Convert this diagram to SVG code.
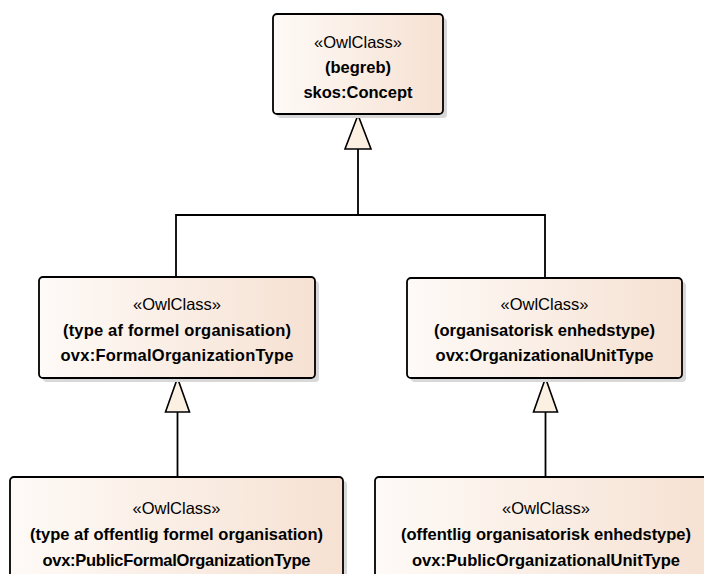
<svg xmlns="http://www.w3.org/2000/svg" width="704" height="574" viewBox="0 0 704 574">
<defs>
<linearGradient id="g" x1="0" y1="0" x2="1" y2="0">
<stop offset="0" stop-color="#fefaf7"/>
<stop offset="1" stop-color="#f6e1d2"/>
</linearGradient>
<style>
.box{fill:url(#g);stroke:#000;stroke-width:1.8}
.sh{fill:#d8d8d8}
.st{font-family:"Liberation Sans",Arial,sans-serif;font-size:16.5px;text-anchor:middle;fill:#000}
.nm{font-family:"Liberation Sans",Arial,sans-serif;font-size:16.5px;font-weight:bold;text-anchor:middle;fill:#000}
.ln{fill:none;stroke:#000;stroke-width:1.8}
.tri{fill:#fbf0e2;stroke:#000;stroke-width:1.6}
</style>
</defs>
<rect width="704" height="574" fill="#fff"/>
<g id="connectors">
<polyline class="ln" points="358,149 358,215 176,215 176,277"/>
<polyline class="ln" points="358,215 545,215 545,278"/>
<line class="ln" x1="177.5" y1="412" x2="177.5" y2="477"/>
<line class="ln" x1="545.5" y1="412" x2="545.5" y2="477"/>
<polygon class="tri" points="358,115 345,149 371,149"/>
<polygon class="tri" points="177.5,378 165.5,412 189.5,412"/>
<polygon class="tri" points="545.5,378 533.5,412 557.5,412"/>
</g>
<g id="concept">
<rect class="sh" x="277" y="18" width="170" height="100" rx="4"/>
<rect class="box" x="273" y="14" width="170" height="100" rx="4"/>
<text class="st" x="358" y="48">«OwlClass»</text>
<text class="nm" x="358" y="73">(begreb)</text>
<text class="nm" x="358" y="98">skos:Concept</text>
</g>
<g id="formal">
<rect class="sh" x="43" y="281" width="276" height="101" rx="4"/>
<rect class="box" x="39" y="277" width="276" height="101" rx="4"/>
<text class="st" x="177" y="310">«OwlClass»</text>
<text class="nm" x="177" y="336" textLength="228" lengthAdjust="spacing">(type af formel organisation)</text>
<text class="nm" x="177" y="361" textLength="233" lengthAdjust="spacing">ovx:FormalOrganizationType</text>
</g>
<g id="orgunit">
<rect class="sh" x="411" y="282" width="275" height="100" rx="4"/>
<rect class="box" x="407" y="278" width="275" height="100" rx="4"/>
<text class="st" x="544.5" y="310">«OwlClass»</text>
<text class="nm" x="544.5" y="336">(organisatorisk enhedstype)</text>
<text class="nm" x="544.5" y="361">ovx:OrganizationalUnitType</text>
</g>
<g id="publicformal">
<rect class="sh" x="14" y="481" width="333" height="110" rx="4"/>
<rect class="box" x="10" y="477" width="333" height="110" rx="4"/>
<text class="st" x="176.5" y="514">«OwlClass»</text>
<text class="nm" x="176.5" y="540" textLength="293" lengthAdjust="spacing">(type af offentlig formel organisation)</text>
<text class="nm" x="176.5" y="566" textLength="268" lengthAdjust="spacing">ovx:PublicFormalOrganizationType</text>
</g>
<g id="publicunit">
<rect class="sh" x="379" y="481" width="340" height="110" rx="4"/>
<rect class="box" x="375" y="477" width="340" height="110" rx="4"/>
<text class="st" x="546" y="514">«OwlClass»</text>
<text class="nm" x="546" y="540" textLength="290" lengthAdjust="spacing">(offentlig organisatorisk enhedstype)</text>
<text class="nm" x="546" y="566" textLength="268" lengthAdjust="spacing">ovx:PublicOrganizationalUnitType</text>
</g>
</svg>
